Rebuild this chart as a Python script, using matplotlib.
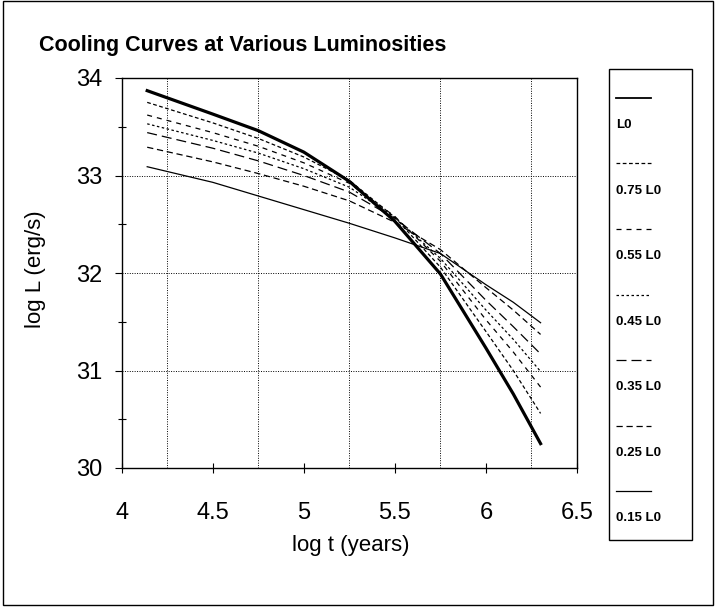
import matplotlib
matplotlib.use("Agg")
import matplotlib.pyplot as plt
from matplotlib.lines import Line2D
from matplotlib.patches import Rectangle

plt.rcParams['font.family'] = ['Liberation Sans', 'DejaVu Sans']

log_t = [4.14, 4.5, 4.75, 5.0, 5.25, 5.5, 5.75, 6.0, 6.15, 6.3]

# log L (erg/s) for each starting luminosity
L_100 = [33.87, 33.63, 33.46, 33.24, 32.94, 32.53, 31.99, 31.23, 30.76, 30.25]
L_075 = [33.75, 33.54, 33.38, 33.19, 32.95, 32.57, 32.06, 31.40, 31.00, 30.56]
L_055 = [33.62, 33.44, 33.30, 33.13, 32.92, 32.58, 32.12, 31.52, 31.19, 30.83]
L_045 = [33.53, 33.36, 33.23, 33.07, 32.88, 32.57, 32.15, 31.62, 31.32, 30.99]
L_035 = [33.44, 33.28, 33.15, 33.00, 32.83, 32.56, 32.20, 31.72, 31.45, 31.17]
L_025 = [33.29, 33.14, 33.02, 32.89, 32.74, 32.52, 32.24, 31.85, 31.62, 31.37]
L_015 = [33.09, 32.93, 32.79, 32.65, 32.51, 32.36, 32.20, 31.88, 31.70, 31.49]

labels = ['L0', '0.75 L0', '0.55 L0', '0.45 L0', '0.35 L0', '0.25 L0', '0.15 L0']
series = [L_100, L_075, L_055, L_045, L_035, L_025, L_015]
styles = ['-', (0, (3, 2)), (0, (4, 4)), (0, (2, 2)), (0, (8, 4)), (0, (5, 3)), '-']
widths = [2.3, 0.9, 0.9, 0.9, 0.9, 0.9, 0.9]

W, H = 715.0, 607.0
fig = plt.figure(figsize=(7.15, 6.07), dpi=100)
ax = fig.add_axes([121.7 / W, 1 - 468 / H, 455.3 / W, 390 / H])

for vals, ls, lw in zip(series, styles, widths):
    ax.plot(log_t, vals, color='black', linestyle=ls, linewidth=lw)

ax.set_xlim(4, 6.5)
ax.set_ylim(30, 34)
ax.set_xticks([4, 4.5, 5, 5.5, 6, 6.5])
ax.set_xticklabels(['4', '4.5', '5', '5.5', '6', '6.5'])
ax.set_xticks([4.25, 4.75, 5.25, 5.75, 6.25], minor=True)
ax.set_yticks([30, 31, 32, 33, 34])
ax.set_yticks([30.5, 31.5, 32.5, 33.5], minor=True)

ax.tick_params(axis='both', which='major', labelsize=17, color='black')
ax.tick_params(axis='x', which='major', direction='inout', length=7, width=0.8, pad=21)
ax.tick_params(axis='x', which='minor', length=0)
ax.tick_params(axis='y', which='major', direction='out', length=5, width=0.8, pad=9)
ax.tick_params(axis='y', which='minor', direction='inout', length=6, width=0.8)

ax.grid(True, axis='x', which='minor', color='black', linestyle=(0, (1, 1.5)), linewidth=0.7)
ax.grid(True, axis='y', which='major', color='black', linestyle=(0, (1, 1.5)), linewidth=0.7)
for sp in ax.spines.values():
    sp.set_linewidth(1.0)

ax.set_xlabel('log t (years)', fontsize=16, va='center')
ax.xaxis.set_label_coords(0.502, (468 - 545) / 390.0)
ax.set_ylabel('log L (erg/s)', fontsize=16, va='center')
ax.yaxis.set_label_coords((35 - 121.7) / 455.3, 0.51)
fig.text(243 / W, 1 - 45 / H, 'Cooling Curves at Various Luminosities', fontsize=15.5,
         fontweight='bold', ha='center', va='center')

# legend box drawn to the right of the plot
fig.patches.append(Rectangle((609 / W, 1 - 540 / H), 83 / W, 471 / H, transform=fig.transFigure,
                             fill=False, edgecolor='black', linewidth=1.0))
for i, (lab, ls, lw) in enumerate(zip(labels, styles, widths)):
    yl = 98 + i * 65.5
    fig.lines.append(Line2D([616 / W, 651 / W], [1 - yl / H, 1 - yl / H], transform=fig.transFigure,
                            color='black', linestyle=ls, linewidth=min(lw, 1.3)))
    fig.text(616 / W, 1 - (yl + 27) / H, lab, fontsize=9.5, fontweight='bold',
             ha='left', va='center')

# outer chart border
fig.patches.append(Rectangle((3 / W, 2 / H), 710 / W, 604 / H, transform=fig.transFigure,
                             fill=False, edgecolor='black', linewidth=1.0))

fig.savefig('out.png', dpi=100)
